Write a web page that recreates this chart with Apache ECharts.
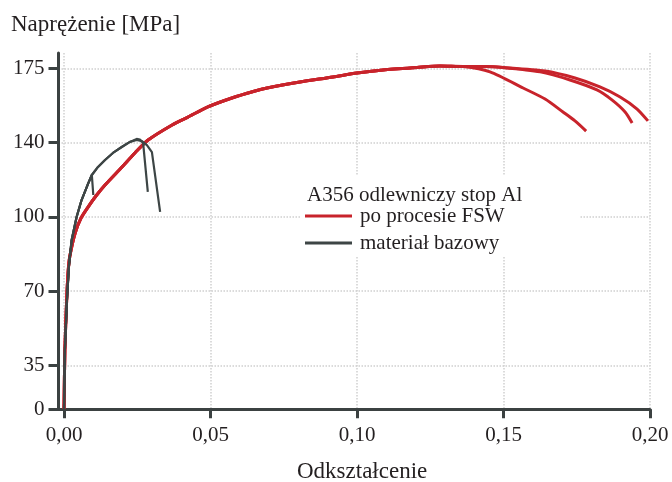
<!DOCTYPE html>
<html>
<head>
<meta charset="utf-8">
<script src="https://cdn.jsdelivr.net/npm/echarts@6/dist/echarts.min.js"></script>
<style>
html,body{margin:0;padding:0;background:#fff;}
#chart{width:672px;height:482px;}
</style>
</head>
<body>
<div id="chart"></div>
<script>
// Tick positions (y axis is drawn in the picture's own evenly spaced scale)
const xTickValues = [0, 0.05, 0.10, 0.15, 0.20];
const yTickValues = [14.3, 35, 70, 105, 140, 175];
const yTickLabels = ['0', '35', '70', '100', '140', '175'];

// FSW specimens: common rising part and three tails
const fswShared = [
  [0.0000, 14.4], [0.0003, 42.2], [0.0009, 65.7], [0.0014, 79.0], [0.0020, 86.5],
  [0.0038, 97.4], [0.0058, 104.4], [0.0082, 109.6], [0.0109, 114.8], [0.0140, 120.0],
  [0.0198, 128.5], [0.0242, 135.1], [0.0287, 141.2], [0.0369, 148.3],
  [0.0423, 152.0], [0.0491, 156.8], [0.0573, 161.0], [0.0652, 164.3], [0.0693, 165.7],
  [0.0805, 168.5], [0.0918, 170.9], [0.1000, 172.8], [0.1089, 174.2], [0.1205, 175.4],
  [0.1283, 176.1], [0.1362, 175.8]
];
const fswTailA = [
  [0.1454, 173.3], [0.1567, 165.7], [0.1642, 160.5], [0.1703, 154.4], [0.1744, 150.2], [0.1782, 145.4]
];
const fswTailBC = [[0.1437, 175.8], [0.1498, 175.4]];
const fswTailB = [
  [0.1625, 173.3], [0.1727, 169.5], [0.1819, 164.8], [0.1870, 160.1], [0.1915, 154.4], [0.1939, 149.2]
];
const fswTailC = [
  [0.1642, 173.7], [0.1744, 170.4], [0.1829, 166.2], [0.1898, 161.5], [0.1956, 155.8], [0.1993, 150.2]
];

// Base material specimens
const baseShared = [
  [0.0000, 14.4], [0.0003, 42.2], [0.0010, 65.7], [0.0017, 82.2], [0.0026, 94.0],
  [0.0043, 104.9], [0.0060, 112.9], [0.0083, 120.9], [0.0095, 124.7]
];
const baseTail1 = [[0.0100, 115.3]];
const baseMid = [
  [0.0116, 128.5], [0.0140, 131.8], [0.0167, 135.1], [0.0197, 137.9], [0.0225, 140.3]
];
const baseTail2 = [[0.0248, 141.7], [0.0259, 141.4], [0.0270, 139.8], [0.0286, 116.8]];
const baseTail3 = [[0.0248, 141.2], [0.0266, 140.7], [0.0283, 138.8], [0.0300, 135.5], [0.0328, 107.3]];

const nameFSW = 'po procesie FSW';
const nameBase = 'materiał bazowy';
const legendTitle = 'A356 odlewniczy stop Al';
const yTitle = 'Naprężenie [MPa]';
const xTitle = 'Odkształcenie';

const RED = '#c8232b';
const GRAY = '#3d4545';
const FONT = 'Liberation Serif';

function lineSeries(name, data, color, width, smooth) {
  return {
    type: 'line', name: name, data: data, showSymbol: false, symbol: 'none', smooth: smooth,
    lineStyle: {color: color, width: width}, itemStyle: {color: color},
    emphasis: {disabled: true}, animation: false, z: 3
  };
}

const series = [
  lineSeries(nameFSW, fswShared.concat(fswTailA), RED, 3, 0.25),
  lineSeries(nameFSW, fswShared.concat(fswTailBC, fswTailB), RED, 3, 0.25),
  lineSeries(nameFSW, fswShared.concat(fswTailBC, fswTailC), RED, 3, 0.25),
  lineSeries(nameBase, baseShared.concat(baseTail1), GRAY, 2.2, false),
  lineSeries(nameBase, baseShared.concat(baseMid, baseTail2), GRAY, 2.2, false),
  lineSeries(nameBase, baseShared.concat(baseMid, baseTail3), GRAY, 2.2, false)
];

const chart = echarts.init(document.getElementById('chart'), null, {renderer: 'canvas'});
chart.setOption({
  animation: false,
  backgroundColor: '#ffffff',
  textStyle: {fontFamily: FONT},
  title: [
    {text: yTitle, left: 6, top: 8, textStyle: {fontFamily: FONT, fontSize: 23, fontWeight: 'normal', color: '#231f20'}},
    {text: xTitle, left: 292, top: 455, textStyle: {fontFamily: FONT, fontSize: 23, fontWeight: 'normal', color: '#231f20'}},
    {text: legendTitle, left: 302, top: 180, z: 10, textStyle: {fontFamily: FONT, fontSize: 21, fontWeight: 'normal', color: '#231f20'}}
  ],
  grid: {left: 58.5, right: 22, top: 53, bottom: 72.7, containLabel: false},
  legend: {
    data: [nameFSW, nameBase],
    orient: 'vertical', left: 300, top: 176,
    padding: [29, 75, 2, 5],
    backgroundColor: '#ffffff',
    icon: 'rect', itemWidth: 47, itemHeight: 3, itemGap: 5,
    selectedMode: false,
    textStyle: {fontFamily: FONT, fontSize: 21, lineHeight: 22, color: '#231f20', padding: [0, 0, 0, 3]}
  },
  xAxis: {
    type: 'value', min: -0.00188, max: 0.2,
    axisLine: {show: true, onZero: false, lineStyle: {color: '#3b4141', width: 3}},
    axisTick: {show: true, length: 9, lineStyle: {color: '#3b4141', width: 3}, customValues: xTickValues},
    axisLabel: {customValues: xTickValues, margin: 16, fontFamily: FONT, fontSize: 21, color: '#231f20',
      formatter: v => v.toFixed(2).replace('.', ',')},
    splitLine: {show: true, lineStyle: {color: '#cfcfcf', type: 'dotted', width: 1.5}}
  },
  yAxis: {
    type: 'value', min: 14.3, max: 182.2,
    axisLine: {show: true, onZero: false, lineStyle: {color: '#3b4141', width: 3}},
    axisTick: {show: true, length: 10, lineStyle: {color: '#3b4141', width: 3}, customValues: yTickValues},
    axisLabel: {customValues: yTickValues, margin: 14, fontFamily: FONT, fontSize: 21, color: '#231f20',
      formatter: v => {
        let best = 0;
        for (let i = 0; i < yTickValues.length; i++) {
          if (Math.abs(yTickValues[i] - v) < Math.abs(yTickValues[best] - v)) best = i;
        }
        return yTickLabels[best];
      }},
    splitLine: {show: true, lineStyle: {color: '#cfcfcf', type: 'dotted', width: 1.5}}
  },
  series: series
});
</script>
</body>
</html>
